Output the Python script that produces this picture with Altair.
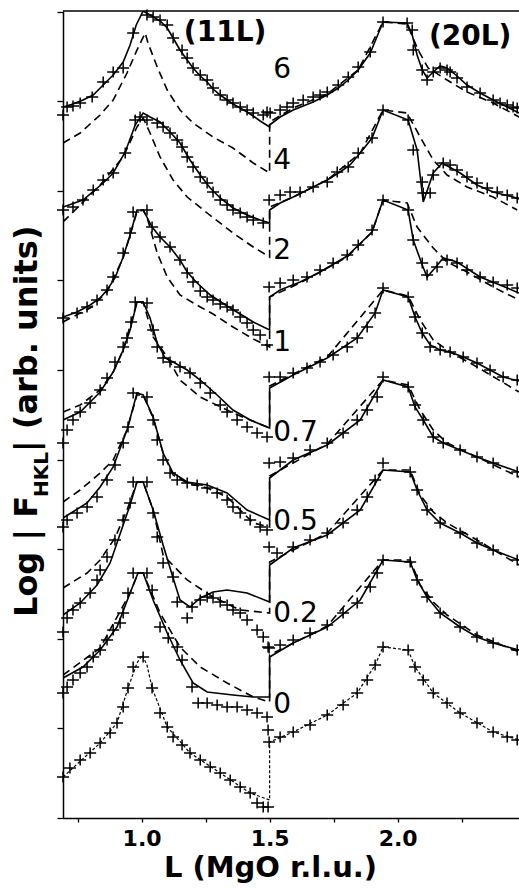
import altair as alt
import pandas as pd

# ---------------- data (L in MgO r.l.u., y = log|F| in arbitrary, offset units) -------------
# curve "6"
mark6_L = [0.693,0.709,0.732,0.760,0.807,0.850,0.889,0.928,0.967,1.021,1.045,1.072,1.100,1.123,1.158,1.178,1.201,1.229,1.256,1.279,1.307,1.334,1.357,1.385,1.412,1.436,1.475,1.490,
           1.502,1.541,1.568,1.592,1.631,1.670,1.697,1.725,1.768,1.807,1.846,1.893,1.943,2.037,2.057,2.061,2.096,2.115,2.139,2.166,2.193,2.205,2.232,2.271,2.322,2.373,2.400,2.428,2.451,2.467]
mark6_y = [7.03,7.11,7.12,7.15,7.21,7.36,7.46,7.50,7.85,8.03,8.01,7.98,7.93,7.80,7.68,7.60,7.50,7.43,7.38,7.30,7.23,7.18,7.15,7.11,7.08,7.05,7.03,7.06,
           7.05,7.08,7.11,7.15,7.18,7.21,7.23,7.26,7.33,7.41,7.51,7.66,7.96,7.95,7.88,7.68,7.48,7.38,7.46,7.50,7.48,7.46,7.40,7.31,7.25,7.18,7.15,7.13,7.11,7.10]
fit6_L = [0.693,0.732,0.771,0.811,0.850,0.889,0.928,0.955,0.979,1.006,1.033,1.072,1.100,1.123,1.150,1.178,1.201,1.229,1.256,1.279,1.307,1.334,1.357,1.385,1.412,1.436,1.463,1.500,
          1.500,1.541,1.592,1.670,1.725,1.768,1.807,1.846,1.893,1.943,2.037,2.057,2.076,2.096,2.115,2.139,2.166,2.193,2.232,2.271,2.322,2.373,2.428,2.474]
fit6_y = [7.11,7.14,7.18,7.23,7.33,7.43,7.56,7.73,7.93,8.07,8.03,7.97,7.90,7.80,7.68,7.58,7.50,7.42,7.36,7.29,7.23,7.18,7.14,7.10,7.06,7.02,6.97,6.91,
          6.93,7.01,7.08,7.16,7.23,7.30,7.38,7.48,7.65,7.96,7.95,7.83,7.63,7.48,7.40,7.46,7.52,7.50,7.42,7.33,7.25,7.18,7.11,7.05]
model6_L = [0.693,0.760,0.838,0.889,0.943,0.982,1.014,1.025,1.061,1.100,1.150,1.201,1.279,1.357,1.436,1.500,
            1.500,1.592,1.725,1.846,1.943,2.037,2.080,2.119,2.193,2.271,2.373,2.474]
model6_y = [6.75,6.85,7.03,7.18,7.45,7.68,7.85,7.75,7.51,7.28,7.08,6.95,6.81,6.70,6.55,6.45,
            6.96,7.10,7.24,7.48,7.96,7.94,7.68,7.50,7.38,7.26,7.15,7.01]

# curve "4"
mark4_L = [0.693,0.732,0.771,0.811,0.850,0.889,0.936,0.975,0.994,1.021,1.061,1.084,1.111,1.139,1.158,1.178,1.201,1.229,1.256,1.279,1.307,1.334,1.357,1.385,1.412,1.436,1.475,
           1.498,1.541,1.580,1.619,1.670,1.725,1.764,1.807,1.846,1.900,1.943,2.041,2.061,2.096,2.100,2.127,2.139,2.178,2.205,2.232,2.271,2.310,2.350,2.389,2.428,2.467]
mark4_y = [6.08,6.11,6.18,6.28,6.38,6.45,6.65,6.98,7.01,6.98,6.95,6.91,6.85,6.78,6.71,6.61,6.51,6.41,6.35,6.26,6.18,6.13,6.08,6.05,6.01,5.98,5.95,
           6.18,6.23,6.26,6.26,6.31,6.36,6.46,6.51,6.65,6.80,7.08,6.98,6.68,6.36,6.25,6.25,6.43,6.55,6.53,6.48,6.41,6.35,6.30,6.26,6.23,6.20]
fit4_L = [0.693,0.771,0.850,0.889,0.936,0.975,1.006,1.033,1.072,1.111,1.150,1.189,1.229,1.268,1.307,1.357,1.412,1.463,1.500,
          1.500,1.541,1.592,1.670,1.725,1.775,1.814,1.854,1.900,1.943,2.041,2.076,2.100,2.139,2.174,2.244,2.310,2.373,2.451,2.474]
fit4_y = [6.11,6.18,6.35,6.45,6.66,6.93,7.05,7.01,6.96,6.86,6.75,6.58,6.43,6.30,6.20,6.10,6.03,5.98,5.95,
          6.08,6.15,6.21,6.31,6.38,6.46,6.53,6.65,6.80,7.08,6.98,6.68,6.16,6.45,6.55,6.45,6.33,6.26,6.21,6.19]
model4_L = [0.693,0.838,0.928,0.982,1.006,1.033,1.072,1.123,1.178,1.256,1.357,1.436,1.500,
            1.500,1.592,1.725,1.854,1.943,2.037,2.088,2.139,2.193,2.271,2.373,2.467]
model4_y = [5.96,6.33,6.61,6.91,7.00,6.85,6.61,6.38,6.21,6.05,5.85,5.71,5.61,
            6.11,6.21,6.38,6.65,7.08,7.05,6.81,6.58,6.43,6.31,6.21,6.08]

# curve "2"
mark2_L = [0.693,0.748,0.787,0.826,0.865,0.889,0.928,0.955,0.967,1.021,1.041,1.072,1.111,1.150,1.178,1.201,1.229,1.256,1.279,1.307,1.334,1.357,1.385,1.412,1.436,1.463,1.490,
           1.498,1.541,1.592,1.646,1.697,1.748,1.803,1.846,1.900,1.943,2.041,2.061,2.096,2.115,2.154,2.193,2.232,2.271,2.322,2.373,2.428,2.467]
mark2_y = [5.00,5.05,5.11,5.18,5.28,5.41,5.65,5.85,6.06,6.08,5.91,5.81,5.71,5.58,5.45,5.36,5.27,5.21,5.18,5.14,5.11,5.08,5.01,4.95,4.88,4.83,4.73,
           5.31,5.35,5.38,5.41,5.48,5.55,5.63,5.73,5.88,6.18,6.08,5.78,5.55,5.43,5.51,5.58,5.55,5.48,5.41,5.36,5.33,5.30]
fit2_L = [0.693,0.748,0.799,0.838,0.865,0.896,0.928,0.955,0.982,1.006,1.041,1.072,1.111,1.150,1.178,1.217,1.268,1.334,1.385,1.436,1.500,
          1.500,1.541,1.619,1.697,1.803,1.900,1.943,2.041,2.061,2.096,2.115,2.146,2.178,2.232,2.322,2.400,2.474]
fit2_y = [5.01,5.06,5.13,5.20,5.28,5.40,5.61,5.83,6.08,6.08,5.91,5.81,5.71,5.58,5.46,5.35,5.23,5.12,5.04,4.96,4.88,
          5.21,5.28,5.36,5.46,5.62,5.86,6.18,6.08,5.78,5.53,5.41,5.50,5.60,5.56,5.41,5.33,5.25]
model2_L = [0.693,0.799,0.865,0.928,0.982,1.006,1.021,1.061,1.100,1.150,1.229,1.279,1.357,1.436,1.500,
            1.500,1.619,1.803,1.900,1.943,2.037,2.076,2.139,2.193,2.271,2.373,2.474]
model2_y = [4.96,5.10,5.26,5.60,6.06,6.08,6.01,5.65,5.41,5.23,5.11,5.04,4.91,4.79,4.71,
            5.21,5.35,5.61,5.86,6.18,6.15,5.91,5.70,5.56,5.46,5.31,5.18]

# curve "1"
mark1_L = [0.693,0.709,0.732,0.760,0.799,0.838,0.865,0.896,0.928,0.943,0.959,0.975,1.021,1.045,1.061,1.084,1.111,1.150,1.189,1.229,1.268,1.307,1.334,1.373,1.412,1.451,1.490,
           1.498,1.541,1.592,1.646,1.697,1.748,1.803,1.842,1.881,1.912,1.943,2.041,2.068,2.096,2.127,2.166,2.205,2.256,2.310,2.361,2.412,2.467]
mark1_y = [3.75,3.88,3.98,4.06,4.15,4.28,4.40,4.56,4.71,4.80,4.96,5.16,5.15,4.88,4.71,4.60,4.56,4.51,4.45,4.35,4.25,4.13,4.06,3.98,3.91,3.85,3.81,
           4.41,4.41,4.45,4.50,4.56,4.63,4.71,4.80,4.91,5.05,5.30,5.21,5.01,4.85,4.71,4.68,4.66,4.61,4.55,4.48,4.41,4.38]
fit1_L = [0.693,0.760,0.838,0.889,0.928,0.955,0.982,1.006,1.033,1.061,1.092,1.123,1.178,1.229,1.295,1.357,1.424,1.500,
          1.500,1.592,1.725,1.842,1.912,1.943,2.041,2.068,2.096,2.127,2.166,2.205,2.256,2.310,2.361,2.412,2.474]
fit1_y = [3.98,4.06,4.26,4.46,4.68,4.88,5.16,5.16,5.00,4.75,4.60,4.56,4.48,4.38,4.23,4.08,3.98,3.90,
          4.30,4.43,4.60,4.80,5.05,5.28,5.21,5.01,4.85,4.73,4.68,4.66,4.61,4.55,4.48,4.41,4.37]
model1_L = [0.693,0.760,0.838,0.889,0.928,0.982,1.006,1.045,1.100,1.150,1.229,1.357,1.500,
            1.500,1.725,1.943,2.041,2.088,2.139,2.205,2.310,2.474]
model1_y = [4.06,4.13,4.28,4.46,4.68,5.16,5.16,4.81,4.61,4.38,4.21,4.05,3.90,
            4.32,4.61,5.28,5.22,4.98,4.78,4.66,4.51,4.26]

# curve "0.7"
mark07_L = [0.693,0.709,0.748,0.787,0.826,0.865,0.896,0.928,0.947,0.967,1.021,1.045,1.061,1.084,1.111,1.139,1.178,1.217,1.256,1.295,1.334,1.357,1.385,1.424,1.463,1.490,
            1.498,1.541,1.592,1.658,1.725,1.787,1.842,1.881,1.920,1.943,2.041,2.068,2.100,2.139,2.178,2.244,2.310,2.373,2.467]
mark07_y = [2.91,2.98,3.05,3.11,3.21,3.38,3.53,3.75,3.91,4.25,4.21,3.98,3.78,3.58,3.45,3.38,3.35,3.33,3.30,3.25,3.18,3.11,3.05,2.98,2.91,2.88,
            3.55,3.56,3.60,3.68,3.75,3.85,3.98,4.08,4.21,4.41,4.31,4.13,3.98,3.81,3.75,3.68,3.61,3.55,3.46]
fit07_L = [0.693,0.787,0.838,0.889,0.943,0.982,1.006,1.045,1.084,1.123,1.178,1.256,1.334,1.412,1.500,
           1.500,1.592,1.725,1.854,1.943,2.041,2.068,2.100,2.139,2.178,2.244,2.310,2.373,2.474]
fit07_y = [3.00,3.15,3.31,3.51,3.88,4.25,4.23,4.01,3.65,3.45,3.36,3.33,3.25,3.08,2.98,
           3.40,3.58,3.73,3.98,4.38,4.31,4.11,3.98,3.81,3.75,3.68,3.61,3.55,3.46]
model07_L = [0.693,0.760,0.838,0.889,0.943,0.982,1.006,1.045,1.084,1.123,1.178,1.256,1.334,1.436,1.500,
             1.500,1.725,1.943,2.041,2.088,2.139,2.193,2.310,2.474]
model07_y = [3.16,3.28,3.45,3.58,3.88,4.23,4.23,4.00,3.65,3.43,3.35,3.30,3.21,2.95,2.91,
             3.42,3.74,4.38,4.33,4.08,3.88,3.75,3.61,3.41]

# curve "0.5"
mark05_L = [0.693,0.709,0.732,0.760,0.799,0.826,0.838,0.865,0.896,0.928,0.955,0.967,1.021,1.045,1.061,1.084,1.123,1.139,1.178,1.197,1.229,1.256,1.279,1.307,1.334,1.357,1.385,1.412,1.451,1.475,1.494,
            1.498,1.529,1.592,1.658,1.725,1.787,1.842,1.881,1.912,1.943,2.049,2.076,2.115,2.166,2.244,2.310,2.373,2.467]
mark05_y = [1.86,2.00,2.08,2.15,2.25,2.38,2.48,2.61,2.78,2.98,3.15,3.36,3.36,3.05,2.81,2.55,2.41,2.16,2.00,2.11,2.18,2.21,2.20,2.16,2.13,2.08,2.05,1.98,1.88,1.81,1.71,
            2.71,2.65,2.71,2.78,2.85,2.95,3.08,3.21,3.38,3.55,3.46,3.28,3.08,2.95,2.85,2.75,2.68,2.58]
fit05_L = [0.693,0.760,0.826,0.877,0.928,0.955,0.982,1.006,1.045,1.084,1.123,1.150,1.189,1.229,1.279,1.334,1.412,1.500,
           1.500,1.592,1.725,1.854,1.943,2.049,2.076,2.115,2.166,2.244,2.310,2.373,2.474]
fit05_y = [2.03,2.15,2.33,2.55,2.93,3.13,3.36,3.36,3.08,2.73,2.40,2.18,2.11,2.20,2.26,2.28,2.25,2.16,
           2.53,2.70,2.83,3.08,3.48,3.46,3.28,3.08,2.95,2.85,2.75,2.68,2.58]
model05_L = [0.693,0.787,0.838,0.896,0.943,0.982,1.006,1.045,1.084,1.178,1.279,1.385,1.500,
             1.500,1.725,1.943,2.049,2.088,2.139,2.193,2.310,2.474]
model05_y = [2.30,2.45,2.58,2.80,3.08,3.36,3.36,3.08,2.63,2.38,2.21,2.08,2.05,
             2.56,2.85,3.48,3.48,3.23,3.06,2.95,2.78,2.53]

# curve "0.2"
mark02_L = [0.693,0.709,0.732,0.760,0.787,0.811,0.838,0.865,0.889,0.916,0.928,0.947,0.967,1.021,1.041,1.072,1.104,1.139,1.158,1.197,1.221,1.256,1.295,1.334,1.373,1.412,1.451,1.490,1.494,
            1.498,1.541,1.592,1.658,1.725,1.787,1.842,1.893,1.920,1.943,2.049,2.076,2.115,2.166,2.244,2.310,2.373,2.467]
mark02_y = [1.25,1.31,1.38,1.45,1.51,1.61,1.68,1.78,1.88,1.95,2.05,2.25,2.45,2.45,2.28,1.91,1.80,1.71,1.58,1.31,1.15,1.15,1.13,1.11,1.11,1.08,1.05,1.01,0.88,
            1.70,1.73,1.78,1.85,1.93,2.05,2.15,2.31,2.45,2.58,2.56,2.38,2.21,2.05,1.91,1.81,1.75,1.68]
fit02_L = [0.693,0.771,0.838,0.904,0.955,0.986,1.006,1.045,1.100,1.150,1.201,1.256,1.357,1.436,1.500,
           1.500,1.592,1.725,1.854,1.943,2.049,2.076,2.115,2.166,2.244,2.310,2.373,2.474]
fit02_y = [1.40,1.51,1.68,1.91,2.25,2.45,2.45,2.18,1.85,1.58,1.35,1.26,1.23,1.21,1.21,
           1.61,1.75,1.91,2.18,2.58,2.56,2.38,2.21,2.05,1.91,1.81,1.75,1.68]
model02_L = [0.693,0.838,0.955,0.986,1.006,1.072,1.150,1.229,1.334,1.436,1.500,
             1.500,1.725,1.943,2.049,2.088,2.139,2.193,2.310,2.474]
model02_y = [1.43,1.70,2.25,2.45,2.45,2.05,1.71,1.51,1.35,1.21,1.16,
             1.63,1.92,2.58,2.58,2.33,2.16,2.03,1.83,1.66]

# curve "0" (bare substrate, fine dashed model only)
mark0_L = [0.693,0.720,0.760,0.799,0.838,0.877,0.904,0.928,0.947,0.967,1.006,1.041,1.072,1.100,1.123,1.158,1.189,1.229,1.268,1.307,1.346,1.385,1.424,1.451,1.475,1.494,
           1.498,1.541,1.592,1.658,1.725,1.787,1.842,1.881,1.912,1.943,2.041,2.068,2.100,2.139,2.193,2.244,2.310,2.373,2.428,2.467]
mark0_y = [0.41,0.50,0.58,0.65,0.75,0.85,0.95,1.11,1.30,1.51,1.61,1.30,1.05,0.91,0.81,0.73,0.65,0.58,0.51,0.45,0.38,0.31,0.25,0.15,0.11,0.11,
           0.76,0.81,0.86,0.93,1.03,1.13,1.25,1.38,1.53,1.71,1.68,1.51,1.38,1.25,1.15,1.05,0.95,0.86,0.81,0.78]
model0_L = [0.693,0.838,0.904,0.947,0.982,1.002,1.021,1.041,1.100,1.189,1.307,1.424,1.500,
            1.500,1.592,1.725,1.842,1.912,1.943,2.041,2.068,2.139,2.244,2.373,2.474]
model0_y = [0.41,0.75,0.95,1.30,1.55,1.63,1.53,1.30,0.91,0.65,0.45,0.25,0.18,
            0.76,0.86,1.03,1.25,1.53,1.71,1.68,1.51,1.25,1.05,0.86,0.78]

# curve labels (coverage) and their anchor positions
label_text = ["6", "4", "2", "1", "0.7", "0.5", "0.2", "0"]
label_L = [1.514] * 8
label_y = [7.48, 6.57, 5.67, 4.75, 3.85, 2.96, 2.04, 1.13]
panel_text = ["(11L)", "(20L)"]
panel_L = [1.326, 2.283]
panel_y = [7.85, 7.81]

x_ticks = [0.75, 1.0, 1.25, 1.5, 1.75, 2.0, 2.25]
y_ticks = [0.0, 0.896, 1.792, 2.688, 3.584, 4.48, 5.376, 6.272, 7.168, 8.064]

# ---------------- assemble ----------------
def frame(series):
    parts = []
    for name, (Ls, ys) in series.items():
        df = pd.DataFrame({"L": Ls, "y": ys})
        df["curve"] = name
        df["seq"] = range(len(df))
        parts.append(df)
    return pd.concat(parts, ignore_index=True)

marks_df = frame({"6": (mark6_L, mark6_y), "4": (mark4_L, mark4_y), "2": (mark2_L, mark2_y),
                  "1": (mark1_L, mark1_y), "0.7": (mark07_L, mark07_y), "0.5": (mark05_L, mark05_y),
                  "0.2": (mark02_L, mark02_y), "0": (mark0_L, mark0_y)})
fit_df = frame({"6": (fit6_L, fit6_y), "4": (fit4_L, fit4_y), "2": (fit2_L, fit2_y),
                "1": (fit1_L, fit1_y), "0.7": (fit07_L, fit07_y), "0.5": (fit05_L, fit05_y),
                "0.2": (fit02_L, fit02_y)})
model_df = frame({"6": (model6_L, model6_y), "4": (model4_L, model4_y), "2": (model2_L, model2_y),
                  "1": (model1_L, model1_y), "0.7": (model07_L, model07_y), "0.5": (model05_L, model05_y),
                  "0.2": (model02_L, model02_y)})
model0_df = frame({"0": (model0_L, model0_y)})
labels_df = pd.DataFrame({"L": label_L, "y": label_y, "t": label_text})
panels_df = pd.DataFrame({"L": panel_L, "y": panel_y, "t": panel_text})

xscale = alt.Scale(domain=[0.693, 2.474], nice=False, zero=False)
yscale = alt.Scale(domain=[0, 8.07], nice=False, zero=False)

X = alt.X("L:Q", scale=xscale, axis=alt.Axis(
    values=x_ticks, grid=False, tickSize=4, tickWidth=1.3,
    labelExpr="(datum.value == 1 || datum.value == 1.5 || datum.value == 2) ? format(datum.value, '.1f') : ''",
    labelFont="DejaVu Sans", labelFontWeight="bold", labelFontSize=22, labelPadding=6, labelColor="black",
    title="L (MgO r.l.u.)", titleFont="DejaVu Sans", titleFontWeight="bold", titleFontSize=29,
    titlePadding=4, titleX=207, titleColor="black", labelFlush=False))
Y = alt.Y("y:Q", scale=yscale, axis=alt.Axis(
    values=y_ticks, labels=False, grid=False, tickSize=6, tickWidth=1.3, title=None))

CROSS = "M-1,0L1,0M0,-0.9L0,0.9"

points = alt.Chart(marks_df).mark_point(
    shape=CROSS, filled=False, size=144, strokeWidth=1.5, color="black", opacity=1
).encode(x=X, y=Y)

fit = alt.Chart(fit_df).mark_line(color="black", strokeWidth=1.6, clip=True).encode(
    x=X, y=Y, detail="curve:N", order="seq:Q")
model = alt.Chart(model_df).mark_line(color="black", strokeWidth=1.6, strokeDash=[8, 5], clip=True).encode(
    x=X, y=Y, detail="curve:N", order="seq:Q")
model0 = alt.Chart(model0_df).mark_line(color="black", strokeWidth=1.2, strokeDash=[3, 2], clip=True).encode(
    x=X, y=Y, detail="curve:N", order="seq:Q")

labels = alt.Chart(labels_df).mark_text(
    font="DejaVu Sans", fontSize=28, align="left", baseline="middle", color="black"
).encode(x=X, y=Y, text="t:N")
panels = alt.Chart(panels_df).mark_text(
    font="DejaVu Sans", fontSize=28, fontWeight="bold", align="center", baseline="middle", color="black"
).encode(x=X, y=Y, text="t:N")

top_rule = alt.Chart(pd.DataFrame({"a": [0]})).mark_rule(color="black", strokeWidth=1.5).encode(
    x=alt.value(0), x2=alt.value(456), y=alt.value(0))

one = pd.DataFrame({"a": [0]})
yt1 = alt.Chart(one).mark_text(angle=270, align="left", baseline="alphabetic", font="DejaVu Sans",
                               fontWeight="bold", fontSize=32, color="black", text="Log | F").encode(
    x=alt.value(-26), y=alt.value(606))
yt2 = alt.Chart(one).mark_text(angle=270, align="left", baseline="alphabetic", font="DejaVu Sans",
                               fontWeight="bold", fontSize=20, color="black", text="HKL").encode(
    x=alt.value(-15), y=alt.value(486))
yt3 = alt.Chart(one).mark_text(angle=270, align="left", baseline="alphabetic", font="DejaVu Sans",
                               fontWeight="bold", fontSize=32, color="black", text=" | (arb. units)").encode(
    x=alt.value(-26), y=alt.value(441))

chart = alt.layer(fit, model, model0, points, labels, panels, top_rule, yt1, yt2, yt3).properties(
    width=456, height=807,
    padding={"left": 63, "top": 11, "right": 0, "bottom": 71},
    autosize=alt.AutoSizeParams(type="none"),
    background="white",
).configure_view(stroke=None).configure_axis(
    domainColor="black", tickColor="black", domainWidth=1.5
)

chart.save("out.html", embed_options={"renderer": "svg", "actions": False})
